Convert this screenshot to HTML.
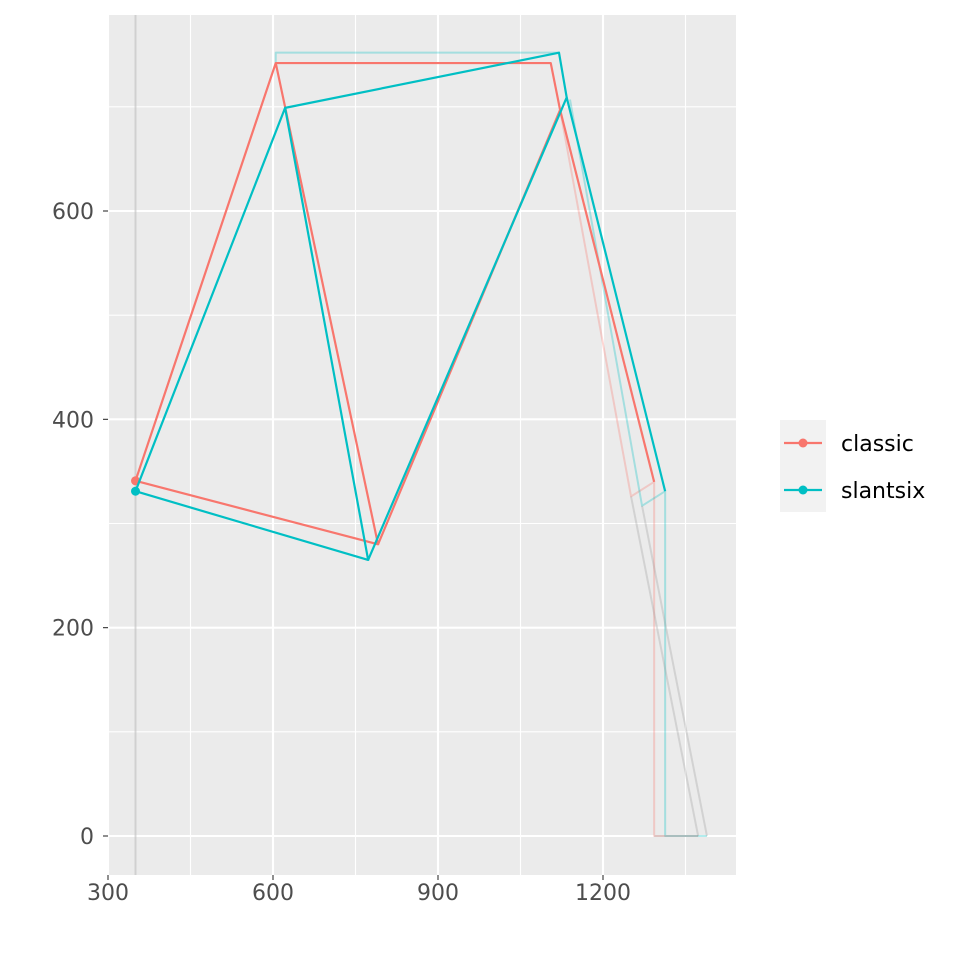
<!DOCTYPE html>
<html><head><meta charset="utf-8"><style>
body{margin:0;background:#fff;}
svg{font-family:"DejaVu Sans","Liberation Sans",sans-serif;}
</style></head><body>
<svg id="c" width="960" height="960" xmlns="http://www.w3.org/2000/svg"></svg>
<script>
const xTicks=[300,600,900,1200];
const xMinor=[450,750,1050,1350];
const yTicks=[0,200,400,600];
const yMinor=[100,300,500,700];
const seriesNames=["classic","slantsix"];
const seriesColors=["#F8766D","#00BFC4"];
// frame points: rear axle, seat top, BB, head top, head bottom, front axle
const classicX=[350,605,791,1105,1122,1293];
const classicY=[341,742,280,742,697,340];
const slantX=[350,622,773,1120,1134,1313];
const slantY=[331,699,265,752,709,331];
// faint reference geometry
const classicFaintX=[1122,1251,1293,1293,1373];
const classicFaintY=[697,326,340,0,0];
const slantFaintX=[1140,1271,1313,1313,1389];
const slantFaintY=[707,317,331,0,0];
const slantTopX=[605,605,1120];
const slantTopY=[742,752,752];
const groundClassicX=[1251,1373];const groundClassicY=[326,0];
const groundSlantX=[1271,1389];const groundSlantY=[317,0];
const wallX=350;

const sx=v=>-57+v*0.55, sy=v=>836-v*1.04167;
const L=108,R=736,T=15,B=875;
const svg=document.getElementById('c');
const NS="http://www.w3.org/2000/svg";
function mk(t,a,p){const e=document.createElementNS(NS,t);for(const k in a)e.setAttribute(k,a[k]);(p||svg).appendChild(e);return e;}
const bg=mk('rect',{x:L,y:T,width:R-L,height:B-T,fill:'#EBEBEB'});


xMinor.forEach(v=>{const e=mk('line',{x1:sx(v),x2:sx(v),y1:T,y2:B,stroke:'#fff','stroke-width':1.1});});
yMinor.forEach(v=>{const e=mk('line',{x1:L,x2:R,y1:sy(v),y2:sy(v),stroke:'#fff','stroke-width':1.1});});
xTicks.forEach(v=>{const e=mk('line',{x1:sx(v),x2:sx(v),y1:T,y2:B,stroke:'#fff','stroke-width':2.1});
const t=mk('line',{x1:sx(v),x2:sx(v),y1:B,y2:B+5,stroke:'#333','stroke-width':1.1});
const l=mk('text',{x:sx(v),y:B+25,'text-anchor':'middle','font-size':22,fill:'#4D4D4D'});l.textContent=v;});
yTicks.forEach(v=>{const e=mk('line',{x1:L,x2:R,y1:sy(v),y2:sy(v),stroke:'#fff','stroke-width':2.1});
const t=mk('line',{x1:L-5,x2:L,y1:sy(v),y2:sy(v),stroke:'#333','stroke-width':1.1});
const l=mk('text',{x:L-14,y:sy(v)+8,'text-anchor':'end','font-size':22,fill:'#4D4D4D'});l.textContent=v;});
function poly(xs,ys,col,w,op,name){const p=mk('polyline',{points:xs.map((x,i)=>sx(x)+','+sy(ys[i])).join(' '),fill:'none',stroke:col,'stroke-width':w,'stroke-opacity':op,'stroke-linejoin':'round'});return p;}
const wl=mk('line',{x1:sx(wallX),x2:sx(wallX),y1:T,y2:B,stroke:'#BEBEBE','stroke-width':2,'stroke-opacity':0.6});

poly(slantTopX,slantTopY,seriesColors[1],2,0.3,'slantsix-stack-reference');
poly(classicFaintX,classicFaintY,seriesColors[0],2,0.3,'classic-fork-reference');
poly(slantFaintX,slantFaintY,seriesColors[1],2,0.3,'slantsix-fork-reference');
poly(groundClassicX,groundClassicY,'#999',2,0.3,'classic-ground-reference');
poly(groundSlantX,groundSlantY,'#999',2,0.3,'slantsix-ground-reference');
poly([classicFaintX[3],classicFaintX[4]],[0,0],'#999',2,0.3,'classic-ground-line');
function frame(xs,ys,col,name){
 poly([xs[0],xs[1],xs[2],xs[0]],[ys[0],ys[1],ys[2],ys[0]],col,2.2,1,name+'-rear-triangle');
 poly([xs[1],xs[3],xs[4],xs[2]],[ys[1],ys[3],ys[4],ys[2]],col,2.2,1,name+'-front-triangle');
 poly([xs[4],xs[5]],[ys[4],ys[5]],col,2.2,1,name+'-fork');
 const c=mk('circle',{cx:sx(xs[0]),cy:sy(ys[0]),r:4.5,fill:col});
}
frame(classicX,classicY,seriesColors[0],'classic');
frame(slantX,slantY,seriesColors[1],'slantsix');
const lb=mk('rect',{x:780,y:420,width:46,height:92,fill:'#F2F2F2'});

seriesNames.forEach((n,i)=>{const y=443+i*47;
 const g=mk('g',{});
 mk('line',{x1:784,x2:822,y1:y,y2:y,stroke:seriesColors[i],'stroke-width':2.2},g);
 mk('circle',{cx:803,cy:y,r:4.5,fill:seriesColors[i]},g);
 const t=mk('text',{x:841,y:y+8,'font-size':22,fill:'#000'},g);t.textContent=n;});
</script>
</body></html>
